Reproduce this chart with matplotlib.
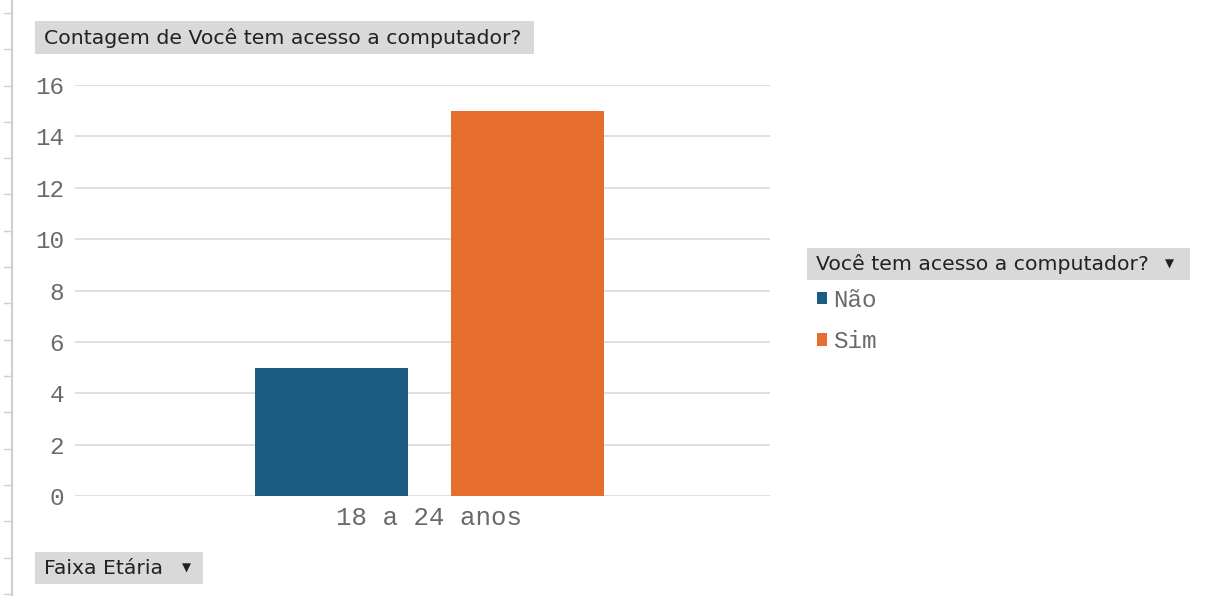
import matplotlib
matplotlib.use("Agg")
import matplotlib.pyplot as plt
from matplotlib.lines import Line2D
from matplotlib.patches import Patch, Rectangle

# data
categoria = "18 a 24 anos"
respostas = ["Não", "Sim"]
contagem = [5, 15]
cores = ["#1c5b82", "#e66f2f"]
yticks = [0, 2, 4, 6, 8, 10, 12, 14, 16]

W, H = 1213, 596
fig = plt.figure(figsize=(W / 100, H / 100), dpi=100)
ax = fig.add_axes([75 / W, 1 - 496 / H, 695 / W, 411 / H])

largura = 0.44
offs = [-0.283, 0.283]
for r, c, cor, o in zip(respostas, contagem, cores, offs):
    ax.bar(o, c, width=largura, color=cor, label=r, zorder=3)

ax.set_xlim(-1.02, 0.98)
ax.set_ylim(0, 16)
ax.set_yticks(yticks)
ax.set_xticks([0])
ax.set_xticklabels([categoria])
for s in ax.spines.values():
    s.set_visible(False)
ax.grid(axis="y", color="#d9d9d9", linewidth=1.2, zorder=0)
ax.tick_params(length=0, labelcolor="#6a6a6a")
ax.tick_params(axis="y", labelsize=17.5, pad=8)
ax.tick_params(axis="x", labelsize=18.5, pad=7)
for t in ax.get_yticklabels() + ax.get_xticklabels():
    t.set_family("Liberation Mono")


# caixas cinzas (botoes do grafico dinamico)
def botao(x0, y0, x1, y1, texto, seta_x=None):
    fig.add_artist(Rectangle((x0 / W, 1 - y1 / H), (x1 - x0) / W, (y1 - y0) / H,
                             facecolor="#d9d9d9", edgecolor="none"))
    fig.text((x0 + 9) / W, 1 - (y0 + y1) / 2 / H, texto, fontsize=14.7,
             family="DejaVu Sans", color="#222222", va="center")
    if seta_x is not None:
        fig.text(seta_x / W, 1 - (y0 + y1) / 2 / H, "\u25BC", fontsize=8.5,
                 family="DejaVu Sans", color="#222222", va="center", ha="center")


botao(35, 21, 534, 54, "Contagem de Você tem acesso a computador?")
botao(35, 552, 203, 584, "Faixa Etária", seta_x=186)
botao(807, 248, 1190, 280, "Você tem acesso a computador?", seta_x=1169)

# legenda
handles = [Patch(facecolor=c, edgecolor="none") for c in cores]
leg = fig.legend(handles, respostas, loc="upper left",
                 bbox_to_anchor=(817 / W, 1 - 289 / H), frameon=False,
                 handlelength=0.4, handleheight=0.4, handletextpad=0.25,
                 labelspacing=0.75, borderaxespad=0, borderpad=0,
                 prop={"family": "Liberation Mono", "size": 17.5})
for t in leg.get_texts():
    t.set_color("#6a6a6a")

# borda esquerda da planilha
fig.add_artist(Line2D([12 / W, 12 / W], [0, 1], color="#cfcfcf", linewidth=1.5))
y = 13
while y < H:
    fig.add_artist(Line2D([4 / W, 12 / W], [1 - y / H, 1 - y / H],
                          color="#cfcfcf", linewidth=1))
    y += 36.3

fig.savefig("out.png", dpi=100)
